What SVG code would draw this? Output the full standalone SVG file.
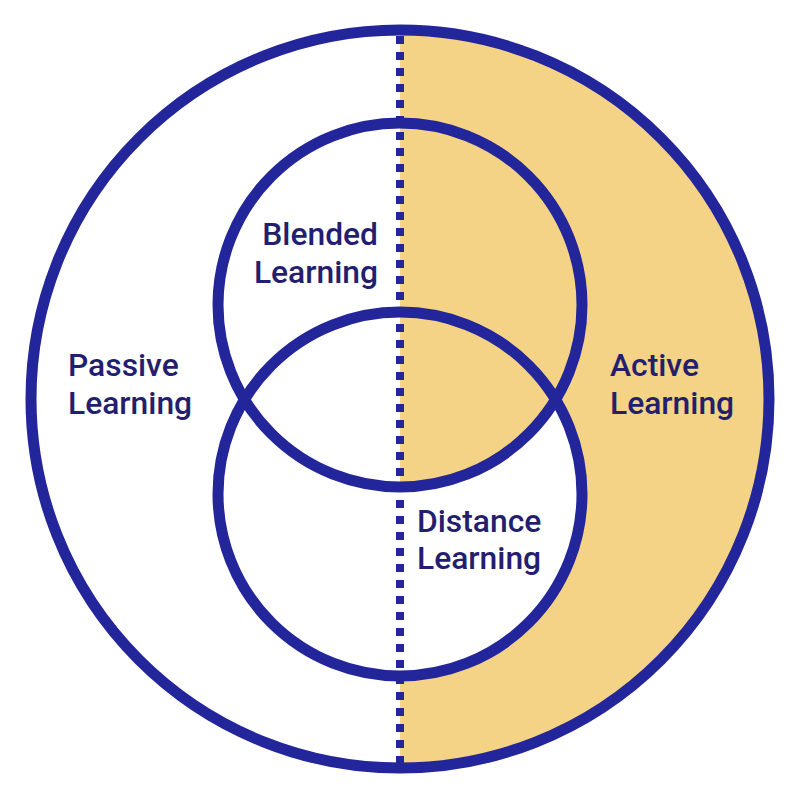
<svg xmlns="http://www.w3.org/2000/svg" width="800" height="800" viewBox="0 0 800 800">
  <style>
    .ring { fill: none; stroke: #23259A; stroke-width: 11; }
    .fillA { fill: #F4D387; }
    .fillW { fill: #FFFFFF; }
    .lbl { font-family: Roboto, "Liberation Sans", sans-serif; font-weight: 500; font-size: 31.8px; fill: #231F6E; }
    .divider { stroke: #23259A; stroke-width: 8; stroke-dasharray: 8 8; fill: none; }
  </style>
  <defs>
    <clipPath id="rightHalf">
      <rect x="400" y="0" width="400" height="800"/>
    </clipPath>
  </defs>
  <rect x="0" y="0" width="800" height="800" fill="#FFFFFF"/>
  <g id="fills" clip-path="url(#rightHalf)">
    <circle class="fillA" cx="400" cy="399" r="369"/>
    <circle class="fillW" cx="400" cy="494" r="182"/>
    <circle class="fillA" cx="400" cy="305" r="182"/>
  </g>
  <g id="connectors">
    <line class="divider" x1="400" y1="36" x2="400" y2="764"/>
  </g>
  <g id="active-passive-outer">
    <circle class="ring" cx="400" cy="399" r="369"/>
  </g>
  <g id="blended">
    <circle class="ring" cx="400" cy="305" r="182"/>
    <text class="lbl" x="378" y="245" text-anchor="end">Blended</text>
    <text class="lbl" x="378" y="283" text-anchor="end">Learning</text>
  </g>
  <g id="distance">
    <circle class="ring" cx="400" cy="494" r="182"/>
    <text class="lbl" x="417" y="532">Distance</text>
    <text class="lbl" x="417" y="569">Learning</text>
  </g>
  <g id="passive">
    <text class="lbl" x="68" y="376">Passive</text>
    <text class="lbl" x="68" y="414">Learning</text>
  </g>
  <g id="active">
    <text class="lbl" x="610" y="376">Active</text>
    <text class="lbl" x="610" y="414">Learning</text>
  </g>
</svg>
